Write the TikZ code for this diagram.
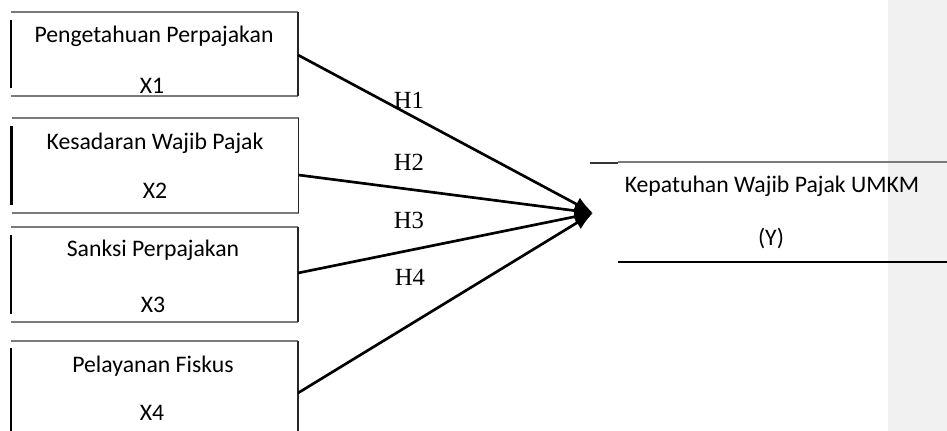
\documentclass[tikz,border=0pt]{standalone}
\usepackage{fontspec}
\setmainfont{Carlito}
\newfontfamily\hfont{Liberation Serif}
\usetikzlibrary{arrows.meta}

\definecolor{marginfill}{HTML}{F1F1F1}
\definecolor{edgegray}{HTML}{7A7A7A}

\tikzset{
  frame/.style={inner sep=0pt, outer sep=0pt, minimum width=#1},
  boxtext/.style={inner sep=0pt, anchor=base, font=\fontsize{17.8}{21}\selectfont},
  hlabel/.style={inner sep=0pt, font=\hfont\fontsize{18.5}{22}\selectfont},
  thinedge/.style={draw=edgegray, line width=0.8pt},
  rightedge/.style={draw=black!85, line width=0.8pt},
  thickedge/.style={draw=black, line width=1.8pt},
  conn/.style={draw=black, line width=2pt, -{Latex[length=14pt,width=11pt]}},
}

\begin{document}
\begin{tikzpicture}[x=0.75pt, y=-0.75pt]
\useasboundingbox (0,0) rectangle (947,431);
\fill[marginfill] (888,0) rectangle (947,431);

% the four factor boxes (width 287 px)
\node[frame=215.25pt, minimum height=63pt]      (b1) at (154.5,54)    {};
\node[frame=215.25pt, minimum height=71.25pt]   (b2) at (155,165.5)   {};
\node[frame=215.25pt, minimum height=71.25pt]   (b3) at (154.5,274.5) {};
\node[frame=215.25pt, minimum height=71.25pt]   (b4) at (154.5,388.5) {};

\foreach \b in {b1,b2,b3} {
  \draw[thinedge] (\b.north west) -- (\b.north east);
  \draw[thinedge] (\b.south west) -- (\b.south east);
  \draw[rightedge] (\b.north east) -- (\b.south east);
  \draw[thickedge] ([shift={(0,8)}]\b.north west) -- ([shift={(0,-8)}]\b.south west);
}
\draw[thinedge] (b4.north west) -- (b4.north east);
\draw[rightedge] (b4.north east) -- (b4.south east);
\draw[thickedge] ([shift={(0,7)}]b4.north west) -- (b4.south west);

% box texts
\node[boxtext] (t1a) at (154,43)  {Pengetahuan Perpajakan};
\node[boxtext] (t1b) at (152,94)  {X1};
\node[boxtext] (t2a) at (155,150) {Kesadaran Wajib Pajak};
\node[boxtext] (t2b) at (155,199) {X2};
\node[boxtext] (t3a) at (153,257) {Sanksi Perpajakan};
\node[boxtext] (t3b) at (153,313) {X3};
\node[boxtext] (t4a) at (153,373) {Pelayanan Fiskus};
\node[boxtext] (t4b) at (152,420) {X4};

% dependent variable box
\node[frame=247.5pt, minimum height=75pt] (y) at (783,212) {};
\draw[draw=edgegray, line width=0.9pt] (y.north west) -- (y.north east);
\draw[draw=black, line width=1pt] (y.south west) -- (y.south east);
\draw[draw=black!80, line width=1.8pt] ([shift={(-28,1)}]y.north west) -- ([shift={(0,1)}]y.north west);
\node[boxtext] (ya) at (772,193) {Kepatuhan Wajib Pajak UMKM};
\node[boxtext] (yb) at (771,246) {(Y)};

% hypothesis paths
\coordinate (tip) at (593,213);
\draw[conn] ([shift={(0,1)}]b1.east)    -- (tip);
\draw[conn] ([shift={(0,9.5)}]b2.east)  -- (tip);
\draw[conn] ([shift={(0,-1.5)}]b3.east) -- (tip);
\draw[conn] ([shift={(0,4.5)}]b4.east)  -- (tip);

\node[hlabel] (h1) at (409,100) {H1};
\node[hlabel] (h2) at (409,162) {H2};
\node[hlabel] (h3) at (409,220) {H3};
\node[hlabel] (h4) at (410,277) {H4};
\end{tikzpicture}
\end{document}
